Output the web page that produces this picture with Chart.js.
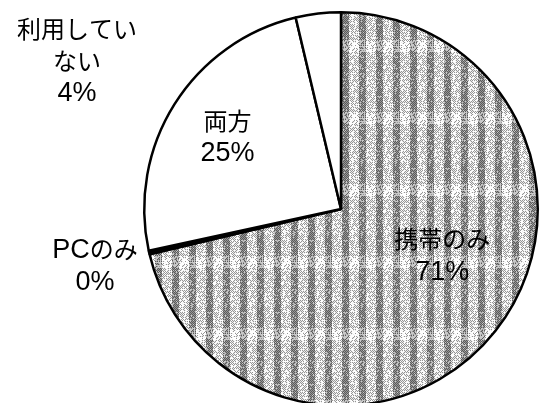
<!DOCTYPE html>
<html>
<head>
<meta charset="utf-8">
<script src="https://cdn.jsdelivr.net/npm/chart.js@4/dist/chart.umd.min.js"></script>
<style>
  html, body { margin: 0; padding: 0; background: #fff; overflow: hidden; }
  #wrap { width: 542px; height: 420px; }
</style>
</head>
<body>
<div id="wrap"><canvas id="pieChart" width="542" height="420"></canvas></div>
<script>
// categories / values (percent)
const categories = ["携帯のみ", "PCのみ", "両方", "利用していない"];
const shares = [71.3, 0.3, 24.7, 3.7];
const shownLabels = ["71%", "0%", "25%", "4%"];
const labelLines = [["携帯のみ"], ["PCのみ"], ["両方"], ["利用してい", "ない"]];

// halftone-ish vertical stripe texture for the big slice
function makePattern() {
  const w = 34, h = 72;
  const c = document.createElement("canvas");
  c.width = w;
  c.height = h;
  const g = c.getContext("2d");
  g.fillStyle = "#ffffff";
  g.fillRect(0, 0, w, h);
  let seed = 11;
  const rnd = () => {
    seed = (seed * 16807) % 2147483647;
    return seed / 2147483647;
  };
  for (let y = 0; y < h; y++) {
    for (let x = 0; x < w; x++) {
      const col = x % 17;
      const inDark = col >= 2 && col <= 8;
      const band = (y >= 40 && y < 52) ? 0.55 : 1;
      const checker = (x + y) % 2 === 0;
      let v;
      if (inDark) {
        v = checker ? 90 : 150;
        if (rnd() > 0.8 * band) v = 200;
      } else {
        v = checker ? 150 : 235;
        if (rnd() > 0.7 * band) v = 255;
      }
      g.fillStyle = `rgb(${v},${v},${v})`;
      g.fillRect(x, y, 1, 1);
    }
  }
  return g.createPattern(c, "repeat");
}

const ctx = document.getElementById("pieChart").getContext("2d");

const latinFont = "27px 'Liberation Sans', sans-serif";
const cjkFont = "24px 'Noto Sans CJK JP', sans-serif";

// split a line into runs of latin / japanese text
function runs(text) {
  const out = [];
  for (const ch of text) {
    const cjk = /[\u3000-\u9fff]/.test(ch);
    const last = out[out.length - 1];
    if (last && last.cjk === cjk) last.t += ch;
    else out.push({ t: ch, cjk });
  }
  return out;
}

function drawLine(c, text, x, y) {
  const parts = runs(text);
  let total = 0;
  parts.forEach((p) => {
    c.font = p.cjk ? cjkFont : latinFont;
    p.w = c.measureText(p.t).width;
    total += p.w;
  });
  let cur = x - total / 2;
  parts.forEach((p) => {
    c.font = p.cjk ? cjkFont : latinFont;
    c.fillText(p.t, cur, y + (p.cjk ? 0 : 1));
    cur += p.w;
  });
}

// labels placed relative to pie center, in units of radius
const labelPlugin = {
  id: "sliceLabels",
  afterDatasetsDraw(chart, args, opts) {
    const arc = chart.getDatasetMeta(0).data[0];
    const cx = arc.x, cy = arc.y, r = arc.outerRadius;
    const c = chart.ctx;
    c.save();
    c.fillStyle = "#000";
    c.textAlign = "left";
    c.textBaseline = "middle";
    opts.offsets.forEach((o, i) => {
      const lines = labelLines[i].concat([shownLabels[i]]);
      const lh = 32;
      const x0 = cx + o[0] * r;
      const y0 = cy + o[1] * r - (lines.length - 1) * lh / 2;
      lines.forEach((t, k) => drawLine(c, t, x0, y0 + k * lh));
    });
    c.restore();
  },
};

new Chart(ctx, {
  type: "pie",
  data: {
    labels: categories,
    datasets: [
      {
        data: shares,
        backgroundColor: [makePattern(), "#000000", "#ffffff", "#ffffff"],
        borderColor: "#000000",
        borderWidth: 2.5,
      },
    ],
  },
  options: {
    responsive: false,
    animation: false,
    devicePixelRatio: 1,
    layout: { padding: { left: 143, right: 3, top: 11, bottom: 13 } },
    plugins: {
      legend: { display: false },
      tooltip: { enabled: false },
      sliceLabels: {
        offsets: [
          [0.515, 0.235],
          [-1.25, 0.286],
          [-0.577, -0.367],
          [-1.342, -0.755],
        ],
      },
    },
  },
  plugins: [labelPlugin],
});
</script>
</body>
</html>
